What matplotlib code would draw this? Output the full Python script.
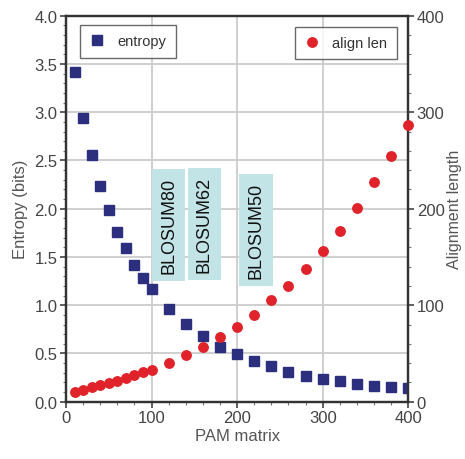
import matplotlib
matplotlib.use("Agg")
import matplotlib.pyplot as plt
from matplotlib.ticker import MultipleLocator

plt.rcParams['font.family'] = ['Liberation Sans', 'DejaVu Sans']

pam = [10, 20, 30, 40, 50, 60, 70, 80, 90, 100, 120, 140, 160, 180, 200,
       220, 240, 260, 280, 300, 320, 340, 360, 380, 400]
entropy = [3.42, 2.94, 2.56, 2.24, 1.99, 1.76, 1.59, 1.42, 1.28, 1.17, 0.96,
           0.81, 0.68, 0.57, 0.49, 0.42, 0.37, 0.31, 0.27, 0.24, 0.21, 0.18,
           0.16, 0.15, 0.14]
align_len = [10.4, 12.4, 15.2, 17.3, 19.7, 21.7, 24.8, 27.6, 30.4, 32.8, 40.0,
             48.3, 56.6, 66.6, 77.6, 89.8, 105.3, 120.1, 137.0, 156.3, 176.4,
             200.8, 227.4, 255.0, 286.7]

blosum_labels = ["BLOSUM80", "BLOSUM62", "BLOSUM50"]
blosum_x = [120, 161.5, 222]
blosum_y = [1.83, 1.84, 1.78]

navy = '#2b2f7e'
red = '#e0232b'
dark = '#333333'
txt = '#444444'

fig = plt.figure(figsize=(4.65, 4.6), dpi=100)
ax1 = fig.add_axes([66/465, 1-402.7/460, 342.3/465, 386/460])
ax2 = ax1.twinx()

ax1.set_xlim(0, 400)
ax1.set_ylim(0, 4.0)
ax2.set_ylim(0, 400)

ax1.grid(True, color='#cccccc', lw=1.3, zorder=0)
ax1.set_axisbelow(True)
ax1.xaxis.set_major_locator(MultipleLocator(100))
ax1.xaxis.set_minor_locator(MultipleLocator(20))
ax1.yaxis.set_major_locator(MultipleLocator(0.5))
ax1.yaxis.set_minor_locator(MultipleLocator(0.1))
ax2.yaxis.set_major_locator(MultipleLocator(100))
ax2.yaxis.set_minor_locator(MultipleLocator(20))

for lab, x, y in zip(blosum_labels, blosum_x, blosum_y):
    ax1.text(x, y, lab, rotation=90, ha='center', va='center', fontsize=13,
             color='#111111', zorder=2,
             bbox=dict(boxstyle='square,pad=0.45', fc='#c3e4e7', ec='none'))

ax1.plot(pam, entropy, 's', color=navy, ms=6.5, mec=navy, label='entropy', zorder=3)
ax2.plot(pam, align_len, 'o', color=red, ms=6.8, mec=red, label='align len',
         zorder=3, clip_on=False)

for ax in (ax1, ax2):
    for s in ax.spines.values():
        s.set_color(dark)
        s.set_linewidth(1.6)
    ax.tick_params(which='major', length=4, width=1.1, color=dark,
                   labelsize=12, labelcolor=txt, pad=2)
    ax.tick_params(which='minor', length=2.5, width=0.8, color='#777777')

ax1.set_xlabel('PAM matrix', fontsize=12, color='#555555', labelpad=2)
ax1.set_ylabel('Entropy (bits)', fontsize=12, color='#555555', labelpad=5)
ax2.set_ylabel('Alignment length', fontsize=11.5, color='#555555', labelpad=2)

lkw = dict(fontsize=10.5, frameon=True, fancybox=False, handlelength=1.0,
           handletextpad=0.9, borderpad=0.65, borderaxespad=0, numpoints=1)
l1 = ax1.legend(loc='upper left', bbox_to_anchor=(0.041, 0.976), **lkw)
l2 = ax2.legend(loc='upper right', bbox_to_anchor=(0.966, 0.972), **lkw)
for l in (l1, l2):
    l.get_frame().set_edgecolor('#444444')
    l.get_frame().set_linewidth(1.0)
    for t in l.get_texts():
        t.set_color('#333333')

fig.savefig('out.png', dpi=100)
